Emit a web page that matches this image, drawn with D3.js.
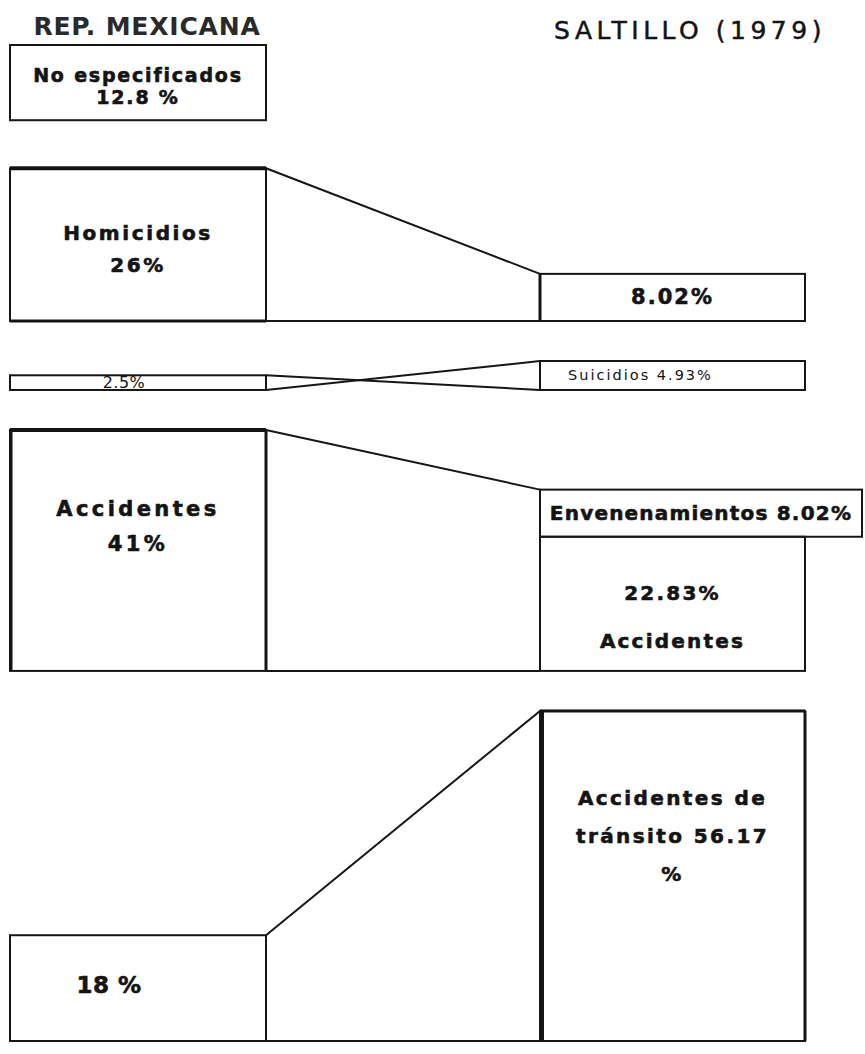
<!DOCTYPE html>
<html>
<head>
<meta charset="utf-8">
<script src="https://cdn.jsdelivr.net/npm/d3@7"></script>
<style>
  body { margin: 0; background: #fff; }
  text { font-family: "DejaVu Sans", "Liberation Sans", sans-serif; fill: #141414; }
</style>
</head>
<body>
<div id="chart"></div>
<script>
// rows, top to bottom (percent of violent deaths)
const causes = ['No especificados', 'Homicidios', 'Suicidios', 'Accidentes', 'Accidentes de tránsito']
const mexico = [12.8, 26, 2.5, 41, 18]
const saltillo = [null, 8.02, 4.93, 22.83, 56.17]
const envenenamientos = 8.02 // only in Saltillo, stacked on top of accidents
const mexicoLabels = [['No especificados', '12.8 %'], ['Homicidios', '26%'], ['2.5%'], ['Accidentes', '41%'], ['18 %']]
const saltilloLabels = [[], ['8.02%'], ['Suicidios  4.93%'], ['22.83%', 'Accidentes'], ['Accidentes de', 'tránsito 56.17', '%']]
const envLabel = 'Envenenamientos 8.02%'
const titles = ['REP. MEXICANA', 'SALTILLO (1979)']

const width = 865,
      height = 1054

const svg = d3.select('#chart')
  .append('svg')
  .attr('width', width)
  .attr('height', height)

// layout
const chartTop = 45, chartBottom = 1041
const gaps = [48, 40, 40, 40]
const leftCol = { x0: 10, x1: 266 },
      rightCol = { x0: 540, x1: 805, envX1: 862 }

const rowUnits = mexico.map((v, i) => Math.max(v, (saltillo[i] || 0) + (i === 3 ? envenenamientos : 0)))
const h = d3.scaleLinear()
  .domain([0, d3.sum(rowUnits)])
  .range([0, chartBottom - chartTop - d3.sum(gaps)])

// row bottoms
const rowBottom = []
let cur = chartTop
rowUnits.forEach((u, i) => {
  if (i > 0) cur += gaps[i - 1]
  cur += h(u)
  rowBottom.push(cur)
})

const leftBoxes = mexico.map((v, i) => ({
  i, x0: leftCol.x0, x1: leftCol.x1, y1: rowBottom[i], y0: rowBottom[i] - h(v), lines: mexicoLabels[i]
}))

const rightBoxes = []
saltillo.forEach((v, i) => {
  if (v == null) return
  rightBoxes.push({ i, x0: rightCol.x0, x1: rightCol.x1, y1: rowBottom[i], y0: rowBottom[i] - h(v), lines: saltilloLabels[i] })
})
const acc = rightBoxes.find(d => d.i === 3)
const transito = rightBoxes.find(d => d.i === 4)
const homR = rightBoxes.find(d => d.i === 1)
const envBox = { i: 'env', x0: rightCol.x0, x1: rightCol.envX1, y1: acc.y0, y0: acc.y0 - h(envenenamientos), lines: [envLabel] }

// label styles
const labelStyle = {
  L0: { size: 19, ls: 1.8, lh: 22, at: 0.54, w: 700 },
  L1: { size: 20, ls: 2.6, lh: 32, at: 0.53, w: 700 },
  L2: { size: 16, ls: 0.5, lh: 16, at: 0.5, w: 400, dx: -14 },
  L3: { size: 21, ls: 3.4, lh: 35, at: 0.40, w: 700 },
  L4: { size: 23, ls: 0.5, lh: 23, at: 0.47, w: 700, dx: -29 },
  R1: { size: 21, ls: 2, lh: 21, at: 0.5, w: 700 },
  R2: { size: 14.5, ls: 2, lh: 14, at: 0.5, w: 400, dx: -32 },
  R3: { size: 20, ls: 2.2, lh: 48, at: 0.6, w: 700 },
  R4: { size: 20, ls: 2.4, lh: 38, at: 0.38, w: 700 },
  Renv: { size: 20, ls: 1.2, lh: 20, at: 0.5, w: 700 }
}

function drawBox(d, key) {
  svg.append('rect')
    .attr('x', d.x0).attr('y', d.y0)
    .attr('width', d.x1 - d.x0).attr('height', d.y1 - d.y0)
    .attr('fill', 'none').attr('stroke', '#161616').attr('stroke-width', 2)
  const s = labelStyle[key]
  const cx = (d.x0 + d.x1) / 2 + (s.dx || 0)
  const cy = d.y0 + (d.y1 - d.y0) * s.at - (d.lines.length - 1) * s.lh / 2
  svg.selectAll(null)
    .data(d.lines)
    .enter().append('text')
    .attr('x', cx)
    .attr('y', (t, j) => cy + j * s.lh)
    .attr('text-anchor', 'middle')
    .attr('dominant-baseline', 'central')
    .attr('font-size', s.size)
    .attr('font-weight', s.w)
    .attr('letter-spacing', s.ls)
    .attr('stroke', s.w === 700 ? '#141414' : 'none')
    .attr('stroke-width', 0.6)
    .text(t => t)
}

leftBoxes.forEach(d => drawBox(d, 'L' + d.i))
rightBoxes.forEach(d => drawBox(d, 'R' + d.i))
drawBox(envBox, 'Renv')

// heavier pen strokes seen on the original
const heavy = [
  [leftCol.x0, leftBoxes[1].y0, leftCol.x1, leftBoxes[1].y0, 4],
  [leftCol.x0, leftBoxes[1].y1, leftCol.x1, leftBoxes[1].y1, 3],
  [leftCol.x0, leftBoxes[3].y0, leftCol.x1, leftBoxes[3].y0, 4],
  [leftCol.x0 + 1, leftBoxes[3].y0, leftCol.x0 + 1, leftBoxes[3].y1, 3],
  [leftCol.x1, leftBoxes[3].y0, leftCol.x1, leftBoxes[3].y1, 3],
  [rightCol.x0, homR.y0, rightCol.x0, homR.y1, 3],
  [rightCol.x0 + 2, transito.y0, rightCol.x0 + 2, transito.y1, 4],
  [rightCol.x1, transito.y0, rightCol.x1, transito.y1, 3],
  [rightCol.x0, transito.y0, rightCol.x1, transito.y0, 3]
]

svg.selectAll('.heavy')
  .data(heavy)
  .enter().append('line')
  .attr('class', 'heavy')
  .attr('x1', d => d[0]).attr('y1', d => d[1])
  .attr('x2', d => d[2]).attr('y2', d => d[3])
  .attr('stroke', '#141414')
  .attr('stroke-width', d => d[4])

// connectors between the two columns
const links = []
;[1, 2, 3, 4].forEach(i => {
  const L = leftBoxes[i]
  const R = rightBoxes.find(d => d.i === i)
  const rTop = i === 3 ? envBox.y0 : R.y0
  if (i === 2) {
    // order flips: lines cross
    links.push([L.x1, L.y0, R.x0, R.y1])
    links.push([L.x1, L.y1, R.x0, R.y0])
  } else {
    links.push([L.x1, L.y0, R.x0, rTop])
    links.push([L.x1, L.y1, R.x0, R.y1])
  }
})

svg.selectAll('.link')
  .data(links)
  .enter().append('line')
  .attr('class', 'link')
  .attr('x1', d => d[0]).attr('y1', d => d[1])
  .attr('x2', d => d[2]).attr('y2', d => d[3])
  .attr('stroke', '#161616')
  .attr('stroke-width', 2)

// column titles
svg.append('text')
  .attr('x', 147).attr('y', 26)
  .attr('text-anchor', 'middle').attr('dominant-baseline', 'central')
  .attr('font-size', 25).attr('font-weight', 700).attr('letter-spacing', 0.8)
  .style('fill', '#2a2a2a')
  .text(titles[0])

svg.append('text')
  .attr('x', 690).attr('y', 30)
  .attr('text-anchor', 'middle').attr('dominant-baseline', 'central')
  .attr('font-size', 25).attr('letter-spacing', 4.5)
  .attr('stroke', '#141414').attr('stroke-width', 0.5)
  .text(titles[1])
</script>
</body>
</html>
